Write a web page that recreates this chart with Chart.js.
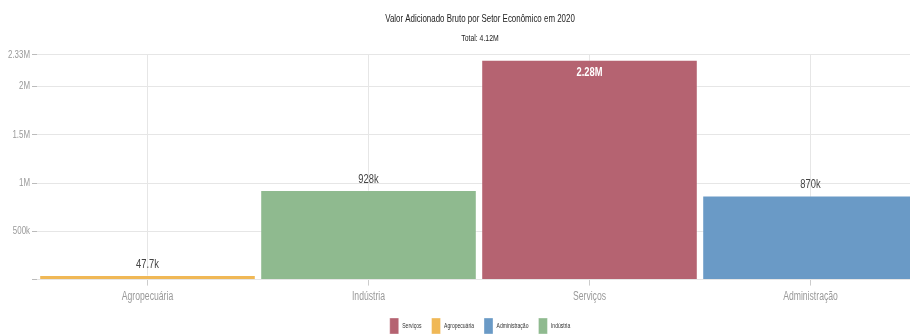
<!DOCTYPE html>
<html>
<head>
<meta charset="utf-8">
<script src="https://cdn.jsdelivr.net/npm/chart.js@4/dist/chart.umd.min.js"></script>
<style>
  body { margin: 0; overflow: hidden; background: #fff; }
  #wrap { width: 960px; height: 344px; }
</style>
</head>
<body>
<div id="wrap"><canvas id="grafico"></canvas></div>
<script>
const categorias = ['Agropecuária', 'Indústria', 'Serviços', 'Administração'];
const setores = ['Serviços', 'Agropecuária', 'Administração', 'Indústria'];
const valores = [2276000, 47700, 870200, 927600];
const cores = ['#b56371', '#f0b856', '#6a9ac6', '#8fba8f'];
const ticksY = [0, 500000, 1000000, 1500000, 2000000, 2330000];

const fonte = 'Arial, "Liberation Sans", sans-serif';
const aperto = 0.72; // fonte do original é condensada

const canvas = document.getElementById('grafico');
const ctx = canvas.getContext('2d');

// texto condensado: escala horizontal no fillText e no measureText
const fillOrig = ctx.fillText.bind(ctx);
const measureOrig = ctx.measureText.bind(ctx);
ctx.fillText = (txt, x, y) => {
  ctx.save();
  ctx.translate(x, y);
  ctx.scale(aperto, 1);
  fillOrig(txt, 0, 0);
  ctx.restore();
};
ctx.measureText = (txt) => {
  const m = measureOrig(txt);
  return {
    width: m.width * aperto,
    actualBoundingBoxAscent: m.actualBoundingBoxAscent,
    actualBoundingBoxDescent: m.actualBoundingBoxDescent
  };
};

const formatar = (v) => {
  if (v >= 1e6) return parseFloat((v / 1e6).toPrecision(3)) + 'M';
  if (v >= 1e3) return parseFloat((v / 1e3).toPrecision(3)) + 'k';
  return String(v);
};

const total = valores.reduce((a, b) => a + b, 0);

// cada setor vira um dataset com valor só na sua categoria
const datasets = setores.map((s, i) => ({
  label: s,
  data: categorias.map(c => (c === s ? valores[i] : null)),
  backgroundColor: cores[i],
  borderColor: 'rgba(255,255,255,0.35)',
  borderWidth: 1,
  barPercentage: 1,
  categoryPercentage: 0.98
}));

const rotulos = {
  id: 'rotulos',
  afterDatasetsDraw(chart) {
    const c = chart.ctx;
    c.save();
    c.textAlign = 'center';
    c.textBaseline = 'middle';
    chart.data.datasets.forEach((ds, i) => {
      const meta = chart.getDatasetMeta(i);
      meta.data.forEach((bar, j) => {
        const v = ds.data[j];
        if (v == null) return;
        const dentro = bar.y - chart.chartArea.top < 20;
        c.font = (dentro ? 'bold ' : '') + '13px ' + fonte;
        c.fillStyle = dentro ? '#fff' : '#444';
        c.fillText(formatar(v), bar.x, dentro ? bar.y + 13 : bar.y - 11);
      });
    });
    c.restore();
  }
};

new Chart(canvas, {
  type: 'bar',
  data: { labels: categorias, datasets },
  plugins: [rotulos],
  options: {
    responsive: true,
    maintainAspectRatio: false,
    animation: false,
    layout: { padding: 0 },
    plugins: {
      title: {
        display: true,
        text: 'Valor Adicionado Bruto por Setor Econômico em 2020',
        color: '#222',
        font: { family: fonte, size: 11, weight: 'normal' },
        padding: { top: 12, bottom: 7 }
      },
      subtitle: {
        display: true,
        text: 'Total: ' + formatar(total),
        color: '#222',
        font: { family: fonte, size: 9.5 },
        padding: { bottom: 11 }
      },
      legend: {
        position: 'bottom',
        labels: {
          boxWidth: 9,
          boxHeight: 16,
          padding: 10,
          color: '#333',
          font: { family: fonte, size: 7 }
        }
      },
      tooltip: { enabled: false }
    },
    scales: {
      x: {
        stacked: true,
        grid: { offset: false, color: '#e6e6e6', tickLength: 6, tickColor: '#ccc' },
        border: { color: '#e6e6e6' },
        ticks: { color: '#999', padding: 4, font: { family: fonte, size: 12 } }
      },
      y: {
        stacked: true,
        min: 0,
        max: ticksY[ticksY.length - 1],
        afterBuildTicks: (scale) => { scale.ticks = ticksY.map(v => ({ value: v })); },
        afterFit: (scale) => { scale.width = 37; },
        grid: { color: '#e6e6e6', tickLength: 5, tickColor: '#bbb' },
        border: { display: false },
        ticks: {
          color: '#999',
          padding: 2,
          font: { family: fonte, size: 11 },
          callback: (v) => (v === 0 ? '' : formatar(v))
        }
      },
      // eixo vazio só para reservar a margem direita
      margem: {
        position: 'right',
        grid: { display: false },
        border: { display: false },
        ticks: { display: false },
        afterFit: (scale) => { scale.width = 39; }
      }
    }
  }
});
</script>
</body>
</html>
